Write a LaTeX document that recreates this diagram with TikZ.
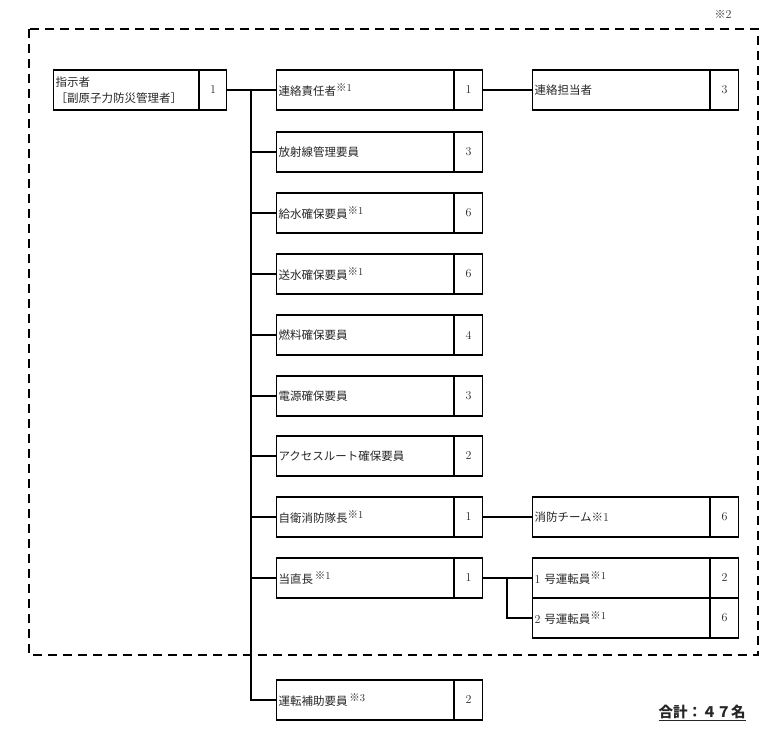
\documentclass[tikz,border=0pt]{standalone}
\usepackage{fontspec}
\newfontfamily\jp{Noto Sans CJK JP}
\newcommand{\kome}[1]{\raisebox{4.5pt}{\fontsize{10.5}{10.5}\selectfont\jp ※\rmfamily #1}}
\newcommand{\dg}[1]{{\rmfamily\fontsize{12}{12}\selectfont #1}}
\tikzset{
  namebox/.style={draw, line width=1.1pt, minimum width=177pt, minimum height=40pt,
    inner xsep=2pt, inner ysep=0pt, text width=173pt, align=left, anchor=west,
    font=\jp\fontsize{11.5}{16}\selectfont, text=black!85},
  numbox/.style={draw, line width=1.1pt, minimum width=28pt, minimum height=40pt,
    inner sep=0pt, anchor=west, font=\rmfamily\fontsize{12}{12}\selectfont, text=black!85},
  link/.style={line width=1.1pt},
  frame/.style={line width=2pt, dash pattern=on 9pt off 6pt}
}
\begin{document}
\begin{tikzpicture}[x=1pt,y=-1pt]
\useasboundingbox (0,0) rectangle (779,731);
% dashed frame
\draw[frame] (29,29) rectangle (758,655);
\node[font=\jp\fontsize{11}{11}\selectfont, text=black!80, inner sep=0pt] (k2) at (723,14) {※\dg{2}};
% left box
\node[namebox, minimum width=145pt, text width=141pt] (boss) at (53,90) {指示者\\［副原子力防災管理者］};
\node[numbox, minimum width=27pt] (bossn) at (boss.east) {1};
% middle column
\node[namebox] (r1) at (276,90) {連絡責任者\kome{1}};
\node[numbox] (n1) at (r1.east) {1};
\node[namebox] (r2) at (276,152) {放射線管理要員};
\node[numbox] (n2) at (r2.east) {3};
\node[namebox] (r3) at (276,213) {給水確保要員\kome{1}};
\node[numbox] (n3) at (r3.east) {6};
\node[namebox] (r4) at (276,274) {送水確保要員\kome{1}};
\node[numbox] (n4) at (r4.east) {6};
\node[namebox] (r5) at (276,335) {燃料確保要員};
\node[numbox] (n5) at (r5.east) {4};
\node[namebox] (r6) at (276,396) {電源確保要員};
\node[numbox] (n6) at (r6.east) {3};
\node[namebox] (r7) at (276,456) {アクセスルート確保要員};
\node[numbox] (n7) at (r7.east) {2};
\node[namebox] (r8) at (276,517) {自衛消防隊長\kome{1}};
\node[numbox] (n8) at (r8.east) {1};
\node[namebox] (r9) at (276,578) {当直長\,\kome{1}};
\node[numbox] (n9) at (r9.east) {1};
\node[namebox] (r10) at (276,700) {運転補助要員\,\kome{3}};
\node[numbox] (n10) at (r10.east) {2};
% right column
\node[namebox] (c1) at (532,90) {連絡担当者};
\node[numbox] (m1) at (c1.east) {3};
\node[namebox] (c8) at (532,517) {消防チーム※\dg{1}};
\node[numbox] (m8) at (c8.east) {6};
\node[namebox] (c9a) at (532,578) {\dg{1} 号運転員\kome{1}};
\node[numbox] (m9a) at (c9a.east) {2};
\node[namebox] (c9b) at (532,618) {\dg{2} 号運転員\kome{1}};
\node[numbox] (m9b) at (c9b.east) {6};
% connectors
\coordinate (tr) at (251,90);
\coordinate (sp) at (507,578);
\draw[link] (bossn.east) -- (r1.west);
\draw[link] (tr) |- (r10.west);
\foreach \r in {r2,r3,r4,r5,r6,r7,r8,r9}{
  \draw[link] (tr |- \r.west) -- (\r.west);
}
\draw[link] (n1.east) -- (c1.west);
\draw[link] (n8.east) -- (c8.west);
\draw[link] (n9.east) -- (c9a.west);
\draw[link] (sp) |- (c9b.west);
% total
\node[font=\jp\bfseries\fontsize{14.5}{14.5}\selectfont, text=black!85, inner sep=0pt] (total) at (702,713) {\underline{合計：４７名}};
\end{tikzpicture}
\end{document}
